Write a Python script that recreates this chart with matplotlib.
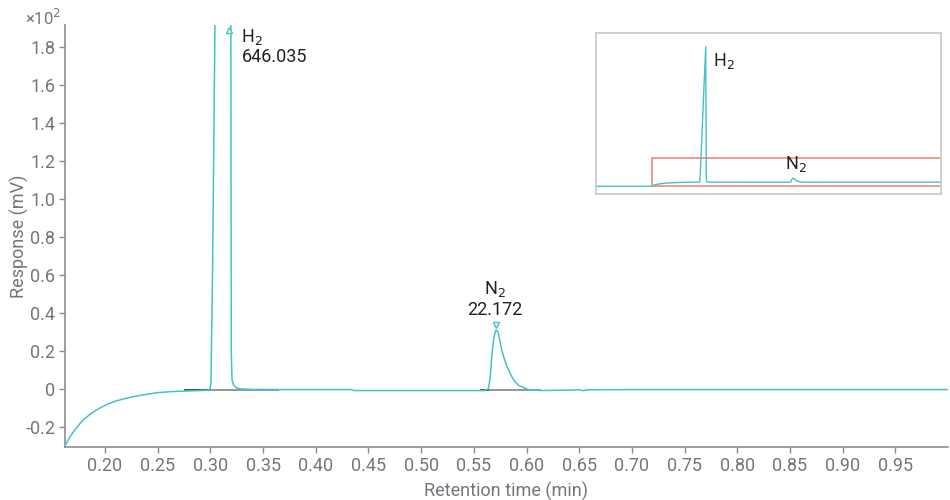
import matplotlib
matplotlib.use("Agg")
import matplotlib.pyplot as plt
from matplotlib.ticker import FixedLocator, FuncFormatter
from matplotlib.patches import Rectangle

plt.rcParams['font.family'] = ['Roboto', 'DejaVu Sans']

# chromatogram trace (time in min, response in mV)
time_min = [0.000, 0.155, 0.162, 0.166, 0.170, 0.175, 0.179, 0.187, 0.195, 0.203,
            0.211, 0.219, 0.227, 0.238, 0.250, 0.262, 0.274, 0.290, 0.2995, 0.3005,
            0.302, 0.3042, 0.310, 0.318, 0.319, 0.3195, 0.3198, 0.3205, 0.322, 0.325,
            0.330, 0.340, 0.365, 0.400, 0.434, 0.436, 0.500, 0.560, 0.5637, 0.5655,
            0.567, 0.5685, 0.570, 0.571, 0.573, 0.5765, 0.580, 0.583, 0.586, 0.589,
            0.593, 0.596, 0.602, 0.615, 0.640, 0.650, 0.654, 0.658, 0.700, 0.800,
            0.900, 1.000]
response_mv = [-33.0, -33.0, -30.0, -25.8, -22.5, -19.0, -16.3, -12.8, -10.0, -7.8,
               -6.2, -5.0, -4.0, -2.9, -1.9, -1.4, -1.1, -0.8, -0.6, 3.0,
               60.0, 185.0, 560.0, 1075.0, 560.0, 150.0, 20.0, 5.0, 2.0, 0.5,
               0.0, -0.2, -0.3, -0.3, -0.3, -0.8, -0.8, -0.8, 0.0, 6.0,
               17.0, 25.0, 29.5, 31.0, 30.0, 20.5, 14.0, 10.0, 6.5, 3.8,
               1.8, 1.0, -0.3, -0.8, -0.6, -0.4, -0.9, -0.4, -0.3, -0.3,
               -0.3, -0.3]

# integration baselines (start, peak start, peak end, end)
h2_baseline = [0.276, 0.300, 0.322, 0.364]
n2_baseline = [0.557, 0.564, 0.600, 0.613]
baseline_level = -0.5

peak_names = ['H$_2$', 'N$_2$']
peak_times = [0.318, 0.571]
peak_areas = ['646.035', '22.172']

teal = '#45c1c8'
grey_text = '#75757d'
spine_col = '#8c8c94'

fig = plt.figure(figsize=(9.5, 5), dpi=100)
ax = fig.add_axes([65 / 950, 53 / 500, 883 / 950, 422 / 500])

ax.plot(time_min, response_mv, color=teal, lw=1.1, zorder=3)
for seg in [h2_baseline, n2_baseline]:
    ax.plot([seg[0], seg[1]], [baseline_level] * 2, color='#1f2d3d', lw=1.2, zorder=2)
    ax.plot([seg[1], seg[3]], [baseline_level] * 2, color='#7d848c', lw=1.2, zorder=2)

ax.set_xlim(0.162, 1.0)
ax.set_ylim(-30.5, 191.5)

# peak markers and labels
ax.plot(peak_times[0], 189, marker='^', ms=5, mfc='white', mec=teal, mew=1, zorder=4, clip_on=False)
ax.text(peak_times[0] + 0.0115, 185, peak_names[0], fontsize=13, color='#222222', va='center', ha='left')
ax.text(peak_times[0] + 0.0115, 174.5, peak_areas[0], fontsize=13, color='#222222', va='center', ha='left')
ax.plot(peak_times[1], 33.8, marker='v', ms=5, mfc='white', mec=teal, mew=1, zorder=4)
ax.text(peak_times[1] - 0.001, 52.5, peak_names[1], fontsize=13, color='#222222', va='center', ha='center')
ax.text(peak_times[1] - 0.001, 41.5, peak_areas[1], fontsize=13, color='#222222', va='center', ha='center')

ax.xaxis.set_major_locator(FixedLocator([0.20 + 0.05 * i for i in range(16)]))
ax.xaxis.set_major_formatter(FuncFormatter(lambda v, p: '%.2f' % v))
ax.yaxis.set_major_locator(FixedLocator([-20 + 20 * i for i in range(11)]))
ax.yaxis.set_major_formatter(FuncFormatter(lambda v, p: '0' if abs(v) < 1e-9 else '%.1f' % (v / 100)))

for side in ['top', 'right']:
    ax.spines[side].set_visible(False)
for side in ['left', 'bottom']:
    ax.spines[side].set_color(spine_col)
    ax.spines[side].set_linewidth(1.2)
ax.tick_params(colors=grey_text, labelsize=13, length=4, width=1, pad=3)
ax.tick_params(axis='both', color=spine_col)
ax.set_xlabel('Retention time (min)', fontsize=13, color=grey_text, labelpad=5)
ax.set_ylabel('Response (mV)', fontsize=13, color=grey_text, labelpad=-3)
fig.text(25 / 950, 1 - 18 / 500, '×10$^2$', fontsize=12, color=grey_text, va='center', ha='left')

# overview inset
ins = fig.add_axes([596 / 950, 306 / 500, 345 / 950, 161 / 500])
ins.plot(time_min, response_mv, color=teal, lw=1.0)
ins.set_xlim(0.0, 1.0)
ins.set_ylim(-94, 1183)
ins.add_patch(Rectangle((0.162, -30.5), 0.9, 222, fill=False, ec='#ec8a78', lw=1.2, clip_on=True))
ins.set_xticks([])
ins.set_yticks([])
for s in ins.spines.values():
    s.set_color('#c8c8cc')
    s.set_linewidth(1.2)
ins.text(0.338, 960, peak_names[0], fontsize=13, color='#222222', va='center', ha='left')
ins.text(0.58, 140, peak_names[1], fontsize=13, color='#222222', va='center', ha='center')

fig.savefig('out.png', dpi=100)
